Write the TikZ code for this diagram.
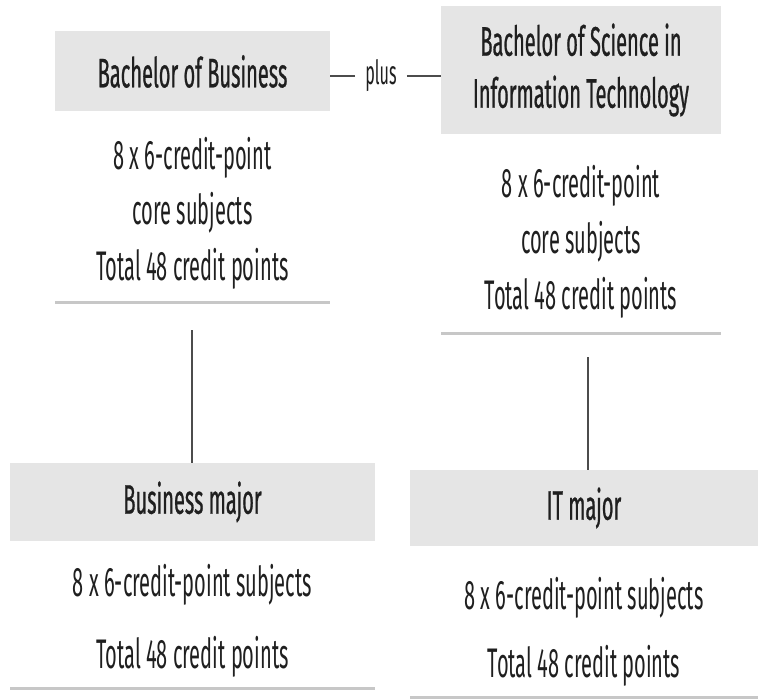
\documentclass[tikz,border=0pt]{standalone}
\usepackage{fontspec}
\setmainfont{Fira Sans}[FakeStretch=0.485]
\newfontfamily\titlefont{Fira Sans}[FakeStretch=0.485,FakeBold=0.6]
\begin{document}
\begin{tikzpicture}[x=0.75pt,y=-0.75pt,
  every node/.style={text=black!88, inner sep=0pt},
  titlebox/.style={fill=black!10, minimum width=#1*0.75pt, align=center,
    font=\titlefont\fontsize{31}{39}\selectfont},
  bodytext/.style={align=center, font=\fontsize{31}{#1}\selectfont},
  underline/.style={draw=black!22, line width=2.25pt},
  connector/.style={draw=black!70, line width=1pt}]
\useasboundingbox (0,0) rectangle (758,699);
% top row
\node[titlebox=275, minimum height=80*0.75pt] (b1) at (192.5,71.5) {Bachelor of Business};
\node[titlebox=280, minimum height=128*0.75pt] (b2) at (581,70) {Bachelor of Science in\\Information Technology};
\node[bodytext=41.6] (t1) at (192.5,213) {8 x 6-credit-point\\core subjects\\Total 48 credit points};
\node[bodytext=42] (t2) at (581,242) {8 x 6-credit-point\\core subjects\\Total 48 credit points};
\draw[underline] (55,302) -- (330,302);
\draw[underline] (441,333) -- (721,333);
% plus
\node[font=\fontsize{25}{28}\selectfont] (plus) at (381,76) {plus};
\draw[connector, line width=1.5pt] ([xshift=-10*0.75pt]plus.west) -- (plus.west -| b1.east);
\draw[connector, line width=1.5pt] ([xshift=10*0.75pt]plus.east) -- (plus.east -| b2.west);
% bottom row
\node[titlebox=365, minimum height=78*0.75pt] (b3) at (192.5,502) {Business major};
\node[titlebox=348, minimum height=76*0.75pt] (b4) at (584,508) {IT major};
\node[bodytext=54] (t3) at (192.5,621) {8 x 6-credit-point subjects\\Total 48 credit points};
\node[bodytext=51] (t4) at (584,632) {8 x 6-credit-point subjects\\Total 48 credit points};
\draw[underline] (10,688) -- (375,688);
\draw[underline] (410,697) -- (758,697);
% connectors
\coordinate (c1) at (192,330);
\coordinate (c2) at (588,357);
\draw[connector] (c1) -- (c1 |- b3.north);
\draw[connector] (c2) -- (c2 |- b4.north);
\end{tikzpicture}
\end{document}
